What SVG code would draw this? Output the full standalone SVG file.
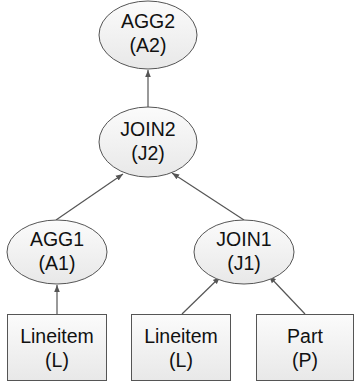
<svg xmlns="http://www.w3.org/2000/svg" width="354" height="385" viewBox="0 0 354 385">
<defs>
<linearGradient id="g" x1="0" y1="0" x2="0" y2="1"><stop offset="0" stop-color="#fbfbfb"/><stop offset="1" stop-color="#e8e8e8"/></linearGradient>
<marker id="ah" viewBox="0 0 10 10" refX="10" refY="5" markerWidth="6" markerHeight="6" orient="auto"><path d="M0,1 L10,5 L0,9 z" fill="#555"/></marker>
<style>
.n{fill:url(#g);stroke:#555;stroke-width:1}
.t{font-family:"Liberation Sans",Arial,sans-serif;font-size:19.5px;fill:#111;text-anchor:middle}
.c{stroke:#555;stroke-width:1.2;fill:none;marker-end:url(#ah)}
</style>
</defs>
<g id="connectors">
<line class="c" x1="148" y1="108" x2="148" y2="70"/>
<line class="c" x1="56" y1="220" x2="123" y2="174"/>
<line class="c" x1="244" y1="220" x2="172" y2="173"/>
<line class="c" x1="57" y1="314" x2="57" y2="285"/>
<line class="c" x1="182" y1="314" x2="220" y2="277"/>
<line class="c" x1="305" y1="314" x2="269" y2="276"/>
</g>
<g id="agg2"><ellipse class="n" cx="148" cy="35" rx="49" ry="34"/><text class="t" x="148" y="28">AGG2</text><text class="t" x="148" y="52">(A2)</text></g>
<g id="join2"><ellipse class="n" cx="148" cy="142" rx="49" ry="35"/><text class="t" x="148" y="136">JOIN2</text><text class="t" x="148" y="160">(J2)</text></g>
<g id="agg1"><ellipse class="n" cx="57" cy="252" rx="50" ry="32"/><text class="t" x="57" y="246">AGG1</text><text class="t" x="57" y="270">(A1)</text></g>
<g id="join1"><ellipse class="n" cx="244" cy="252" rx="50" ry="32"/><text class="t" x="244" y="246">JOIN1</text><text class="t" x="244" y="270">(J1)</text></g>
<g id="lineitem1"><rect class="n" x="7.5" y="314.5" width="99" height="66"/><text class="t" x="57" y="343">Lineitem</text><text class="t" x="57" y="367">(L)</text></g>
<g id="lineitem2"><rect class="n" x="131.5" y="314.5" width="99" height="66"/><text class="t" x="181" y="343">Lineitem</text><text class="t" x="181" y="367">(L)</text></g>
<g id="part"><rect class="n" x="256.5" y="314.5" width="97" height="66"/><text class="t" x="305" y="343">Part</text><text class="t" x="305" y="367">(P)</text></g>
</svg>
